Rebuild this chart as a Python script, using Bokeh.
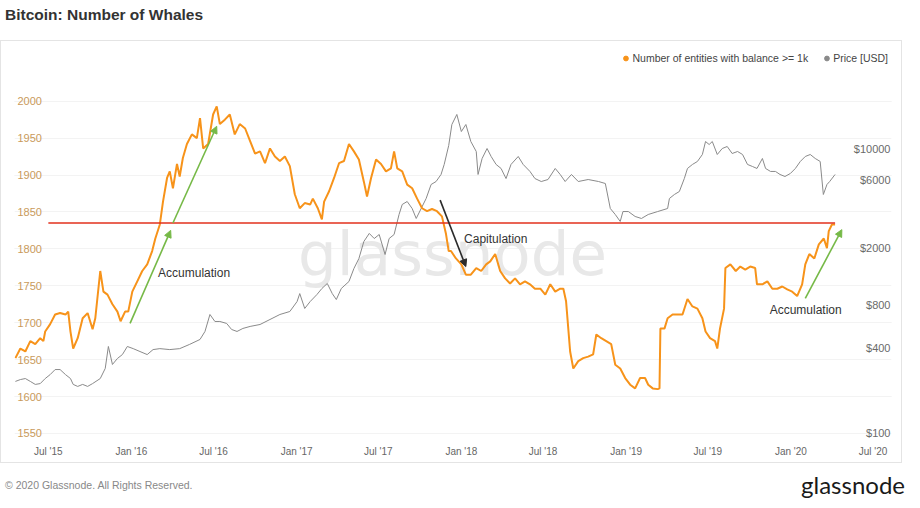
import pandas as pd
from bokeh.plotting import figure
from bokeh.models import (Range1d, LogScale, ColumnDataSource, LabelSet, Label, Arrow,
                          NormalHead, Legend, LegendItem, MonthsTicker,
                          DatetimeTickFormatter, Grid, FixedTicker, Div)
from bokeh.layouts import column
from bokeh.embed import file_html
from bokeh.resources import INLINE
from bokeh.core.properties import value

# ---------------- data ----------------
whale_dates = [
    "2015-04-19", "2015-04-30", "2015-05-11", "2015-05-22", "2015-06-02", "2015-06-13", "2015-06-20",
    "2015-06-24", "2015-07-05", "2015-07-16", "2015-07-27", "2015-08-08", "2015-08-14", "2015-08-19",
    "2015-08-25", "2015-09-04", "2015-09-15", "2015-09-26", "2015-10-07", "2015-10-13", "2015-10-24",
    "2015-10-31", "2015-11-09", "2015-11-20", "2015-12-01", "2015-12-08", "2015-12-18", "2015-12-25",
    "2016-01-03", "2016-01-14", "2016-01-25", "2016-02-05", "2016-02-16", "2016-02-23", "2016-03-04",
    "2016-03-11", "2016-03-20", "2016-03-26", "2016-04-02", "2016-04-11", "2016-04-17", "2016-04-24",
    "2016-05-03", "2016-05-14", "2016-05-25", "2016-06-01", "2016-06-08", "2016-06-19", "2016-06-30",
    "2016-07-08", "2016-07-15", "2016-07-26", "2016-08-06", "2016-08-17", "2016-08-28", "2016-09-09",
    "2016-09-20", "2016-10-01", "2016-10-12", "2016-10-23", "2016-11-03", "2016-11-14", "2016-11-25",
    "2016-12-06", "2016-12-17", "2016-12-28", "2017-01-08", "2017-01-19", "2017-01-31", "2017-02-06",
    "2017-02-17", "2017-02-26", "2017-03-03", "2017-03-14", "2017-03-25", "2017-04-05", "2017-04-16",
    "2017-04-27", "2017-05-08", "2017-05-19", "2017-05-30", "2017-06-06", "2017-06-15", "2017-06-26",
    "2017-07-07", "2017-07-18", "2017-07-29", "2017-08-05", "2017-08-12", "2017-08-23", "2017-09-03",
    "2017-09-14", "2017-09-25", "2017-10-06", "2017-10-17", "2017-10-28", "2017-11-08", "2017-11-19",
    "2017-11-28", "2017-12-04", "2017-12-09", "2017-12-20", "2018-01-01", "2018-01-11", "2018-01-22",
    "2018-02-03", "2018-02-14", "2018-02-25", "2018-03-06", "2018-03-17", "2018-03-28", "2018-04-08",
    "2018-04-19", "2018-04-30", "2018-05-11", "2018-05-22", "2018-06-02", "2018-06-13", "2018-06-25",
    "2018-07-06", "2018-07-17", "2018-07-28", "2018-08-08", "2018-08-15", "2018-08-21", "2018-08-30",
    "2018-09-06", "2018-09-17", "2018-09-28", "2018-10-09", "2018-10-20", "2018-10-27", "2018-11-07",
    "2018-11-18", "2018-11-29", "2018-12-08", "2018-12-19", "2018-12-30", "2019-01-10", "2019-01-21",
    "2019-02-01", "2019-02-12", "2019-02-19", "2019-03-01", "2019-03-12", "2019-03-16", "2019-03-18",
    "2019-03-27", "2019-04-03", "2019-04-14", "2019-04-25", "2019-05-06", "2019-05-17", "2019-05-28",
    "2019-06-08", "2019-06-19", "2019-06-26", "2019-07-06", "2019-07-17", "2019-07-22", "2019-07-28",
    "2019-08-06", "2019-08-09", "2019-08-20", "2019-09-01", "2019-09-11", "2019-09-22", "2019-10-03",
    "2019-10-14", "2019-10-18", "2019-10-30", "2019-11-10", "2019-11-21", "2019-12-02", "2019-12-13",
    "2019-12-24", "2020-01-04", "2020-01-15", "2020-01-26", "2020-02-02", "2020-02-11", "2020-02-22",
    "2020-03-03", "2020-03-14", "2020-03-21", "2020-03-25", "2020-04-01", "2020-04-08",
]
whale_counts = [
    1652, 1665, 1661, 1675, 1671, 1679, 1675,
    1688, 1698, 1711, 1713, 1711, 1715, 1688,
    1665, 1679, 1706, 1713, 1691, 1706, 1770,
    1742, 1738, 1725, 1715, 1702, 1715, 1715,
    1742, 1756, 1770, 1779, 1797, 1814, 1833,
    1864, 1896, 1905, 1882, 1915, 1898, 1923,
    1942, 1955, 1950, 1977, 1936, 1942, 1982,
    1993, 1969, 1975, 1982, 1955, 1969, 1963,
    1946, 1929, 1932, 1916, 1936, 1925, 1919,
    1925, 1912, 1874, 1855, 1862, 1860, 1868,
    1855, 1840, 1864, 1878, 1896, 1916, 1919,
    1942, 1932, 1921, 1891, 1871, 1896, 1921,
    1915, 1905, 1909, 1932, 1909, 1905, 1887,
    1882, 1868, 1855, 1851, 1854, 1851, 1844,
    1820, 1797, 1797, 1787, 1779, 1765, 1765,
    1774, 1770, 1779, 1783, 1793, 1770, 1760,
    1753, 1760, 1752, 1756, 1752, 1746, 1746,
    1738, 1752, 1742, 1746, 1746, 1729, 1661,
    1638, 1648, 1652, 1654, 1657, 1684, 1679,
    1675, 1671, 1643, 1638, 1625, 1616, 1611,
    1625, 1625, 1616, 1611, 1610, 1611, 1692,
    1692, 1706, 1711, 1711, 1711, 1732, 1722,
    1719, 1706, 1688, 1679, 1675, 1665, 1692,
    1719, 1774, 1779, 1770, 1776, 1772, 1776,
    1774, 1752, 1752, 1756, 1746, 1746, 1749,
    1745, 1742, 1736, 1752, 1779, 1793, 1787,
    1806, 1814, 1801, 1824, 1833, 1833,
]

price_dates = [
    "2015-04-19", "2015-04-30", "2015-05-11", "2015-05-22", "2015-06-02", "2015-06-13", "2015-06-24",
    "2015-07-05", "2015-07-16", "2015-07-27", "2015-08-08", "2015-08-19", "2015-08-25", "2015-09-04",
    "2015-09-15", "2015-09-26", "2015-10-07", "2015-10-24", "2015-11-04", "2015-11-11", "2015-11-20",
    "2015-12-01", "2015-12-12", "2015-12-23", "2016-01-05", "2016-01-20", "2016-02-05", "2016-02-18",
    "2016-03-04", "2016-03-26", "2016-04-17", "2016-05-09", "2016-06-01", "2016-06-12", "2016-06-23",
    "2016-07-04", "2016-07-15", "2016-07-30", "2016-08-10", "2016-08-22", "2016-09-04", "2016-09-20",
    "2016-10-12", "2016-11-03", "2016-11-25", "2016-12-17", "2017-01-02", "2017-01-08", "2017-01-19",
    "2017-01-31", "2017-02-15", "2017-02-26", "2017-03-10", "2017-03-21", "2017-03-30", "2017-04-10",
    "2017-04-27", "2017-05-08", "2017-05-19", "2017-05-30", "2017-06-11", "2017-06-22", "2017-07-03",
    "2017-07-16", "2017-07-25", "2017-08-05", "2017-08-16", "2017-08-23", "2017-09-03", "2017-09-14",
    "2017-09-23", "2017-10-04", "2017-10-15", "2017-10-26", "2017-11-06", "2017-11-17", "2017-11-24",
    "2017-12-04", "2017-12-11", "2017-12-22", "2018-01-01", "2018-01-11", "2018-01-22", "2018-02-03",
    "2018-02-07", "2018-02-16", "2018-02-27", "2018-03-08", "2018-03-19", "2018-03-30", "2018-04-10",
    "2018-04-21", "2018-05-07", "2018-05-18", "2018-06-02", "2018-06-13", "2018-06-27", "2018-07-12",
    "2018-07-28", "2018-08-08", "2018-08-19", "2018-09-02", "2018-09-17", "2018-10-09", "2018-11-01",
    "2018-11-16", "2018-11-27", "2018-12-08", "2018-12-19", "2018-12-25", "2019-01-06", "2019-01-21",
    "2019-02-04", "2019-02-19", "2019-03-12", "2019-04-03", "2019-04-07", "2019-04-18", "2019-04-29",
    "2019-05-10", "2019-05-17", "2019-05-28", "2019-06-08", "2019-06-19", "2019-06-26", "2019-07-04",
    "2019-07-11", "2019-07-22", "2019-08-02", "2019-08-13", "2019-08-24", "2019-09-05", "2019-09-16",
    "2019-09-27", "2019-10-08", "2019-10-18", "2019-10-30", "2019-11-06", "2019-11-17", "2019-11-28",
    "2019-12-08", "2019-12-19", "2019-12-31", "2020-01-11", "2020-01-22", "2020-02-02", "2020-02-13",
    "2020-02-24", "2020-03-06", "2020-03-13", "2020-03-21", "2020-03-27", "2020-04-08",
]
price_usd = [
    232, 239, 243, 232, 221, 224, 243,
    259, 281, 281, 259, 243, 221, 214,
    221, 214, 224, 243, 286, 408, 305,
    336, 358, 408, 394, 376, 358, 388,
    394, 388, 394, 422, 457, 520, 684,
    611, 611, 592, 537, 520, 546, 564,
    582, 631, 684, 718, 843, 959, 754,
    843, 944, 1041, 1129, 959, 871, 1041,
    1166, 1439, 1690, 2225, 2535, 2335, 2491,
    1803, 2335, 2491, 3443, 4047, 4246, 3793,
    3228, 3793, 4460, 5589, 5865, 6572, 7727,
    10500, 14735, 17333, 13155, 14735, 11195, 9528,
    6572, 8511, 10000, 8790, 7727, 7244, 6154,
    7727, 8790, 7727, 6902, 6154, 5865, 6057,
    7244, 6572, 5865, 6572, 5865, 6057, 5865,
    5680, 3793, 3443, 3076, 3611, 3611, 3334,
    3228, 3443, 3611, 3793, 4460, 4756, 4991,
    6154, 7244, 7727, 8110, 9077, 11195, 10666,
    11195, 9077, 10000, 10330, 9226, 9528, 9077,
    7727, 7478, 7244, 8511, 7244, 6902, 6902,
    6572, 6362, 6683, 7244, 8110, 8790, 9077,
    8511, 8110, 4756, 5589, 5865, 6572,
]

count_ticks = [1550, 1600, 1650, 1700, 1750, 1800, 1850, 1900, 1950, 2000]
price_ticks = [100, 400, 800, 2000, 6000, 10000]
price_tick_labels = ["$100", "$400", "$800", "$2000", "$6000", "$10000"]

threshold_value = [1835]
threshold_start = ["2015-07-01"]
threshold_end = [whale_dates[-1]]

arrow_green_start_dates = ["2015-12-29", "2016-04-02", "2020-02-02"]
arrow_green_start_vals = [1699, 1835, 1733]
arrow_green_end_dates = ["2016-03-28", "2016-07-08", "2020-04-23"]
arrow_green_end_vals = [1825, 1966, 1826]
arrow_black_start_dates = ["2017-11-15"]
arrow_black_start_vals = [1866]
arrow_black_end_dates = ["2018-01-11"]
arrow_black_end_vals = [1776]

note_dates = ["2016-02-29", "2018-01-07", "2019-11-15"]
note_vals = [1767, 1813, 1717]
note_texts = ["Accumulation", "Capitulation", "Accumulation"]

series_names = ["Number of entities with balance >= 1k", "Price [USD]"]

# ---------------- styling ----------------
ORANGE = "#f7931a"
GREY = "#8a8a8a"
FONT = "Liberation Sans"

FIG_W, FIG_H = 902, 423
BL, BR, BT, BB = 13, 12, 8, 20
FRAME_W = FIG_W - BL - BR

p = figure(width=FIG_W, height=FIG_H, x_axis_type="datetime", y_axis_location=None,
           output_backend="svg", toolbar_location=None,
           x_range=Range1d(pd.Timestamp("2015-04-17"), pd.Timestamp("2020-08-11")),
           y_range=Range1d(1535, 2070),
           min_border_left=BL, min_border_right=BR, min_border_top=BT, min_border_bottom=BB)
p.extra_y_ranges = {"price": Range1d(83.7, 49520)}
p.extra_y_scales = {"price": LogScale()}
p.outline_line_color = None
p.xgrid.visible = False
p.styles = {"border": "1px solid #e4e4e4"}

p.add_layout(Grid(dimension=1, ticker=FixedTicker(ticks=count_ticks),
                  grid_line_color="#f3f3f3", grid_line_width=1))

# watermark
p.add_layout(Label(x=438, y=191, x_units="screen", y_units="screen", text="glassnode",
                   text_font="DejaVu Sans", text_font_size="61px", text_color="#e8e8e8",
                   text_align="center", text_baseline="alphabetic", level="underlay"))

wsrc = ColumnDataSource(dict(date=pd.to_datetime(whale_dates), count=whale_counts))
psrc = ColumnDataSource(dict(date=pd.to_datetime(price_dates), price=price_usd))

p.line(x="date", y="price", source=psrc, y_range_name="price", color=GREY, line_width=1)
p.line(x="date", y="count", source=wsrc, color=ORANGE, line_width=2)

tsrc = ColumnDataSource(dict(x0=pd.to_datetime(threshold_start), x1=pd.to_datetime(threshold_end),
                             y=threshold_value))
p.segment(x0="x0", y0="y", x1="x1", y1="y", source=tsrc, color="#e2311d", line_width=1.5)

gsrc = ColumnDataSource(dict(x0=pd.to_datetime(arrow_green_start_dates), y0=arrow_green_start_vals,
                             x1=pd.to_datetime(arrow_green_end_dates), y1=arrow_green_end_vals))
p.add_layout(Arrow(source=gsrc, x_start="x0", y_start="y0", x_end="x1", y_end="y1",
                   line_color="#76b947", line_width=1.6,
                   end=NormalHead(size=7, fill_color="#76b947", line_color="#76b947")))
bsrc = ColumnDataSource(dict(x0=pd.to_datetime(arrow_black_start_dates), y0=arrow_black_start_vals,
                             x1=pd.to_datetime(arrow_black_end_dates), y1=arrow_black_end_vals))
p.add_layout(Arrow(source=bsrc, x_start="x0", y_start="y0", x_end="x1", y_end="y1",
                   line_color="#2b2b2b", line_width=1.6,
                   end=NormalHead(size=7, fill_color="#2b2b2b", line_color="#2b2b2b")))

nsrc = ColumnDataSource(dict(x=pd.to_datetime(note_dates), y=note_vals, t=note_texts))
p.add_layout(LabelSet(x="x", y="y", text="t", source=nsrc, text_font=value(FONT),
                      text_font_size="12px", text_color="#333333", text_align="left",
                      text_baseline="middle"))

# axis labels drawn inside the frame
lsrc = ColumnDataSource(dict(v=count_ticks, t=[str(v) for v in count_ticks]))
p.add_layout(LabelSet(x=3, x_units="screen", y="v", text="t", source=lsrc,
                      text_font=value(FONT), text_font_size="11px", text_color="#c99a5b",
                      text_align="left", text_baseline="middle"))
rsrc = ColumnDataSource(dict(v=price_ticks, t=price_tick_labels))
p.add_layout(LabelSet(x=FRAME_W - 1, x_units="screen", y="v", y_range_name="price", text="t",
                      source=rsrc, text_font=value(FONT), text_font_size="11px",
                      text_color="#6a6a6a", text_align="right", text_baseline="middle"))

# x axis
p.xaxis.ticker = MonthsTicker(months=[0, 6])
p.xaxis.formatter = DatetimeTickFormatter(months="%b '%y", years="%b '%y", days="%b '%y")
p.xaxis.axis_line_color = None
p.xaxis.major_tick_line_color = None
p.xaxis.minor_tick_line_color = None
p.xaxis.major_tick_out = 0
p.xaxis.major_tick_in = 0
p.xaxis.major_label_text_font = FONT
p.xaxis.major_label_text_font_size = "10px"
p.xaxis.major_label_text_color = "#666666"
p.xaxis.major_label_standoff = 1

# legend keys: one empty (NaN) row each, so only the legend dot is drawn
key_src = ColumnDataSource(dict(x=[float("nan")], y=[float("nan")]))
r1 = p.scatter(x="x", y="y", source=key_src, size=7, color=ORANGE)
r2 = p.scatter(x="x", y="y", source=key_src, size=7, color=GREY)
legend = Legend(items=[LegendItem(label=series_names[0], renderers=[r1]),
                       LegendItem(label=series_names[1], renderers=[r2])],
                location="top_right", orientation="horizontal", border_line_color=None,
                background_fill_alpha=0, label_text_font=FONT, label_text_font_size="10.5px",
                label_text_color="#444444", glyph_width=12, glyph_height=12, label_standoff=1,
                spacing=12, padding=2, margin=3)
p.add_layout(legend)

title = Div(text='<div style="font: bold 15.5px \'Liberation Sans\'; color:#333; margin:1px 0 0 0;">'
                 'Bitcoin: Number of Whales</div>', width=FIG_W, height=30)
footer = Div(text='<div style="display:flex; justify-content:space-between; align-items:center; '
                  'width:' + str(FIG_W - 2) + 'px; margin-top:2px;">'
                  '<span style="font: 10.5px \'Liberation Sans\'; color:#888;">'
                  '\u00a9 2020 Glassnode. All Rights Reserved.</span>'
                  '<span style="font: 24px Lato; color:#1a1a1a;">glassnode</span></div>',
             width=FIG_W, height=40)

layout = column(title, p, footer, spacing=0)
open("out.html", "w").write(file_html(layout, INLINE))
